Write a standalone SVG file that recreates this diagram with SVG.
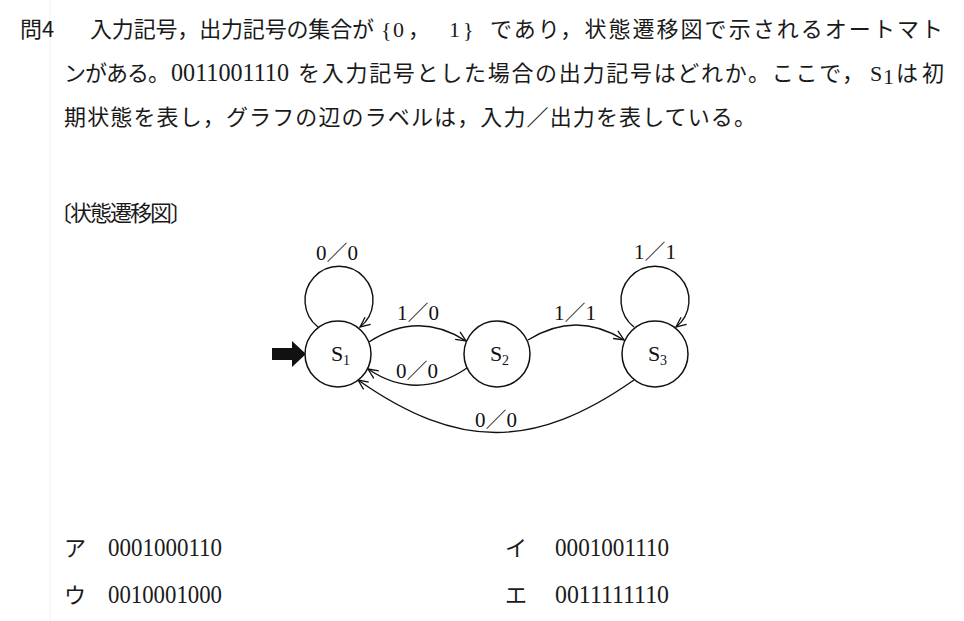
<svg xmlns="http://www.w3.org/2000/svg" width="964" height="621" viewBox="0 0 964 621">
<defs>
<marker id="arr" markerUnits="userSpaceOnUse" markerWidth="14" markerHeight="12" viewBox="-11 -6 13 12" refX="0" refY="0" orient="auto">
<path d="M -10 -4.5 L 0 0 L -10 4.5" fill="none" stroke="#111" stroke-width="1.3"/>
</marker>
<style>
.mx{font-family:"Liberation Serif","Noto Sans CJK JP",serif;fill:#1a1a1a;font-size:22px}
.gt{font-family:"Noto Sans CJK JP","Liberation Sans",sans-serif;fill:#1a1a1a;font-size:22px}
.st{fill:#fff;stroke:#111;stroke-width:1.5}
.ed{fill:none;stroke:#111;stroke-width:1.4}
.lb{font-family:"Liberation Serif","Noto Sans CJK JP",serif;font-size:21px;text-anchor:middle;fill:#111}
.sl{font-family:"Liberation Serif","Noto Sans CJK JP",serif;font-size:22px;fill:#111}
.sb{font-family:"Liberation Serif","Noto Sans CJK JP",serif;font-size:14px;fill:#111}
.dg{font-family:"Liberation Serif",serif;fill:#1a1a1a;font-size:25px}
</style>
</defs>
<rect x="0" y="0" width="964" height="621" fill="#fff"/>
<line x1="50" y1="0" x2="50" y2="621" stroke="#f1f1f1" stroke-width="1"/>

<g id="question">
<text class="gt" x="20" y="37">問4</text>
<text class="mx" x="90" y="37" textLength="284" lengthAdjust="spacing">入力記号，出力記号の集合が</text>
<text class="mx" x="381 393 408 449 463" y="37" font-size="23">{0，1}</text>
<text class="mx" x="490" y="37" textLength="453" lengthAdjust="spacing">であり，状態遷移図で示されるオートマト</text>
<text class="mx" x="64" y="81" textLength="106" lengthAdjust="spacing">ンがある。</text>
<text class="dg" x="171" y="81" textLength="118" lengthAdjust="spacingAndGlyphs">0011001110</text>
<text class="mx" x="298" y="81" textLength="566" lengthAdjust="spacing">を入力記号とした場合の出力記号はどれか。ここで，</text>
<text class="mx" x="870" y="81">S</text>
<text class="mx" x="883" y="84" font-size="14">1</text>
<text class="mx" x="896" y="81" textLength="48" lengthAdjust="spacing">は初</text>
<text class="mx" x="64" y="125" textLength="692" lengthAdjust="spacing">期状態を表し，グラフの辺のラベルは，入力／出力を表している。</text>
</g>

<text id="caption" class="mx" x="50" y="221" font-size="20" textLength="142" lengthAdjust="spacing">〔状態遷移図〕</text>

<g id="connectors">
<polygon points="272,348 292,348 292,341 306,354 292,367 292,360 272,360" fill="#111"/>
<path class="ed" d="M 318 327 A 34 34 0 1 1 360 327" marker-end="url(#arr)"/>
<path class="ed" d="M 634 327 A 34 34 0 1 1 676 327" marker-end="url(#arr)"/>
<path class="ed" d="M 369 342 Q 418 310 466 341" marker-end="url(#arr)"/>
<path class="ed" d="M 467 368 Q 417 402 368 369" marker-end="url(#arr)"/>
<path class="ed" d="M 528 340 Q 576 310 624 340" marker-end="url(#arr)"/>
<path class="ed" d="M 634 380 C 534 450 458 450 358 380" marker-end="url(#arr)"/>
<text class="lb" x="337" y="260">0／0</text>
<text class="lb" x="655" y="259">1／1</text>
<text class="lb" x="418" y="320">1／0</text>
<text class="lb" x="417" y="378">0／0</text>
<text class="lb" x="575" y="320">1／1</text>
<text class="lb" x="496" y="427">0／0</text>
</g>

<g id="node-s1">
<circle class="st" cx="338" cy="354" r="33"/>
<text class="sl" x="331" y="361">S</text><text class="sb" x="343" y="365">1</text>
</g>
<g id="node-s2">
<circle class="st" cx="497" cy="354" r="33"/>
<text class="sl" x="490" y="361">S</text><text class="sb" x="502" y="365">2</text>
</g>
<g id="node-s3">
<circle class="st" cx="655" cy="354" r="33"/>
<text class="sl" x="648" y="361">S</text><text class="sb" x="660" y="365">3</text>
</g>

<g id="choices">
<text class="mx" x="64" y="556" font-size="20">ア</text>
<text class="dg" x="108" y="556" textLength="114" lengthAdjust="spacingAndGlyphs">0001000110</text>
<text class="mx" x="505" y="556" font-size="20">イ</text>
<text class="dg" x="555" y="556" textLength="114" lengthAdjust="spacingAndGlyphs">0001001110</text>
<text class="mx" x="64" y="603" font-size="20">ウ</text>
<text class="dg" x="108" y="603" textLength="114" lengthAdjust="spacingAndGlyphs">0010001000</text>
<text class="mx" x="505" y="603" font-size="20">エ</text>
<text class="dg" x="555" y="603" textLength="114" lengthAdjust="spacingAndGlyphs">0011111110</text>
</g>
</svg>
